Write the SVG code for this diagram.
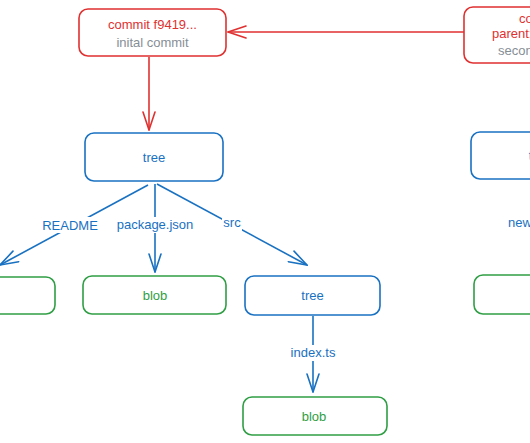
<svg xmlns="http://www.w3.org/2000/svg" width="530" height="443" viewBox="0 0 530 443">
<defs>
<marker id="ar" viewBox="0 0 20 14" refX="19" refY="7" markerWidth="20" markerHeight="14" markerUnits="userSpaceOnUse" orient="auto">
<path d="M1,1 L19,7 L1,13" fill="none" stroke="context-stroke" stroke-width="1.6" stroke-linecap="round"/>
</marker>
<marker id="arR" viewBox="0 0 20 14" refX="19" refY="7" markerWidth="20" markerHeight="14" markerUnits="userSpaceOnUse" orient="auto">
<path d="M1,1 L19,7 L1,13" fill="none" stroke="#e03131" stroke-width="1.6" stroke-linecap="round"/>
</marker>
<marker id="arB" viewBox="0 0 20 14" refX="19" refY="7" markerWidth="20" markerHeight="14" markerUnits="userSpaceOnUse" orient="auto">
<path d="M1,1 L19,7 L1,13" fill="none" stroke="#1971c2" stroke-width="1.6" stroke-linecap="round"/>
</marker>
</defs>
<style>
text{font-family:"Liberation Sans","DejaVu Sans",sans-serif;font-size:13px}
.box{fill:#ffffff;stroke-width:1.6}
.red{stroke:#e03131}.blue{stroke:#1971c2}.green{stroke:#2f9e44}
.tr{fill:#e03131}.tb{fill:#1971c2}.tg{fill:#2f9e44}.tgray{fill:#868e96}
.edgeR{fill:none;stroke:#e03131;stroke-width:1.6;marker-end:url(#arR)}
.edgeB{fill:none;stroke:#1971c2;stroke-width:1.6;marker-end:url(#arB)}
.lbg{fill:#ffffff;stroke:none}
.c{text-anchor:middle}
</style>
<rect width="530" height="443" fill="#ffffff"/>
<g id="connectors">
<line class="edgeR" x1="464" y1="32" x2="228" y2="32"/>
<line class="edgeR" x1="149" y1="57" x2="149" y2="130"/>
<line class="edgeB" x1="148" y1="185" x2="0" y2="265"/>
<line class="edgeB" x1="155" y1="184" x2="155" y2="272"/>
<line class="edgeB" x1="157" y1="184" x2="307" y2="265"/>
<line class="edgeB" x1="313" y1="316" x2="313" y2="392"/>
<line class="edgeB" x1="540" y1="181" x2="540" y2="272"/>
<rect class="lbg" x="42" y="217" width="56" height="16"/>
<text class="tb c" x="70" y="229.5">README</text>
<rect class="lbg" x="117" y="217" width="76" height="16"/>
<text class="tb c" x="155" y="228.5">package.json</text>
<rect class="lbg" x="222" y="215" width="20" height="16"/>
<text class="tb c" x="232" y="227">src</text>
<rect class="lbg" x="288" y="345" width="50" height="16"/>
<text class="tb c" x="313" y="357">index.ts</text>
<rect class="lbg" x="506" y="217" width="70" height="16"/>
<text class="tb" x="508" y="227">newfile.ts</text>
</g>
<g id="commit1">
<rect class="box red" x="79" y="9" width="147" height="47" rx="9"/>
<text class="tr c" x="152.5" y="28.5" font-size="12.5">commit f9419...</text>
<text class="tgray c" x="152.5" y="47" font-size="12.5">inital commit</text>
</g>
<g id="commit2">
<rect class="box red" x="464" y="7" width="150" height="56" rx="9"/>
<text class="tr" x="519" y="23" font-size="12.5">commit 3b8d2...</text>
<text class="tr" x="492" y="38" font-size="12.5">parent: f9419...</text>
<text class="tgray" x="498" y="55" font-size="12.5">second commit</text>
</g>
<g id="tree1">
<rect class="box blue" x="85" y="133" width="138" height="48" rx="9"/>
<text class="tb c" x="154" y="161.5">tree</text>
</g>
<g id="blob-readme">
<rect class="box green" x="-83" y="277" width="138" height="37" rx="9"/>
<text class="tg c" x="-14" y="300">blob</text>
</g>
<g id="blob-package">
<rect class="box green" x="83" y="276" width="143" height="38" rx="9"/>
<text class="tg c" x="155" y="299.5">blob</text>
</g>
<g id="tree-src">
<rect class="box blue" x="245" y="276" width="135" height="39" rx="9"/>
<text class="tb c" x="312.5" y="299.5">tree</text>
</g>
<g id="blob-index">
<rect class="box green" x="243" y="397" width="144" height="38" rx="9"/>
<text class="tg c" x="314" y="420.5">blob</text>
</g>
<g id="tree3">
<rect class="box blue" x="471" y="132" width="138" height="47" rx="9"/>
<text class="tb c" x="540" y="160">tree</text>
</g>
<g id="blob3">
<rect class="box green" x="474" y="275" width="140" height="39" rx="9"/>
<text class="tg c" x="544" y="298.5">blob</text>
</g>
</svg>
